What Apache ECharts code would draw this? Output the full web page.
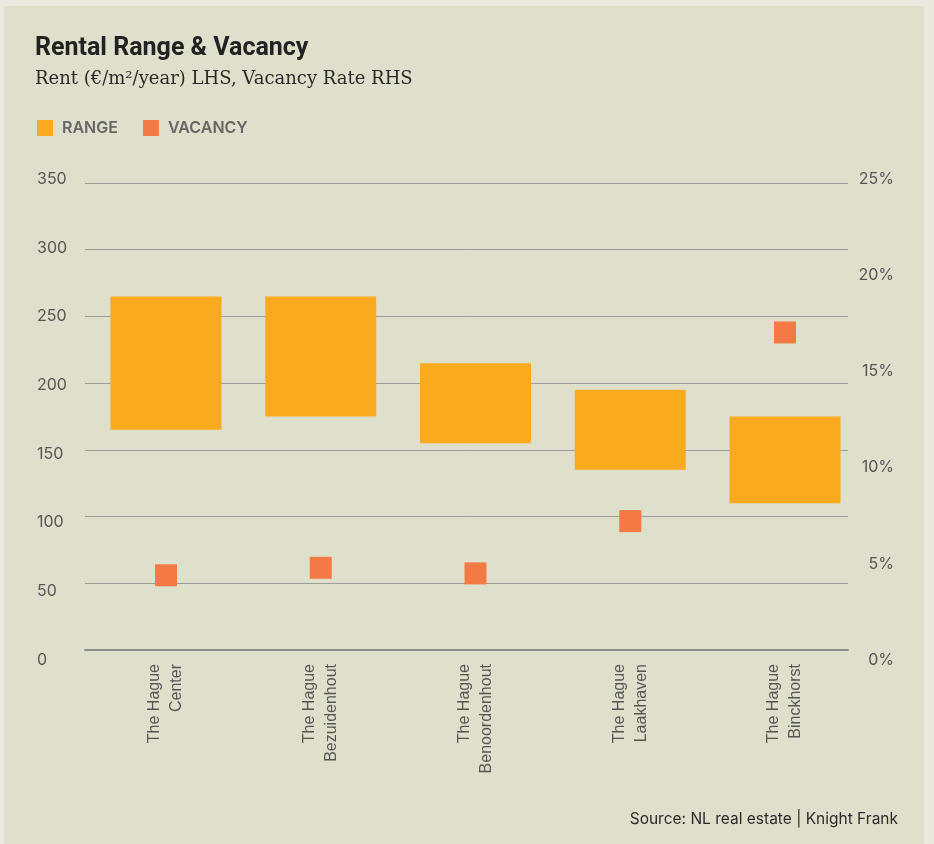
<!DOCTYPE html>
<html>
<head>
<meta charset="utf-8">
<script src="https://cdn.jsdelivr.net/npm/echarts@6/dist/echarts.min.js"></script>
<style>
  html, body { margin: 0; padding: 0; background: #e9e9de; }
  #chart { width: 934px; height: 844px; }
</style>
</head>
<body>
<div id="chart"></div>
<script>
// districts on the x axis
const districts = [
  'The Hague\nCenter',
  'The Hague\nBezuidenhout',
  'The Hague\nBenoordenhout',
  'The Hague\nLaakhaven',
  'The Hague\nBinckhorst'
]
// rent range, €/m²/year (LHS)
const rentLow = [165, 175, 155, 135, 110]
const rentHigh = [265, 265, 215, 195, 175]
// vacancy rate, % (RHS)
const vacancy = [4.0, 4.4, 4.1, 6.9, 17.0]

const rangeColor = '#f9aa1e'
const vacancyColor = '#f47a45'
const labelColor = '#555555'
const font = 'Inter, "Liberation Sans", sans-serif'

// stacked bar: transparent base + visible span
const rangeSpan = rentHigh.map((h, i) => h - rentLow[i])

const chart = echarts.init(document.getElementById('chart'))

const option = {
  backgroundColor: '#e9e9de',
  animation: false,
  graphic: [
    {
      type: 'rect',
      z: -10,
      shape: { x: 4, y: 6, width: 920, height: 840 },
      style: { fill: '#dfe0cc' }
    },
    {
      type: 'text',
      right: 36,
      top: 811,
      style: {
        text: 'Source: NL real estate | Knight Frank',
        fill: '#2a2a2a',
        font: '15.5px ' + font
      }
    }
  ],
  title: [
    {
      text: 'Rental Range & Vacancy',
      left: 35,
      top: 36,
      padding: 0,
      textStyle: { fontFamily: 'Roboto, sans-serif', fontWeight: 700, fontSize: 25, color: '#222222' }
    },
    {
      text: 'Rent (€/m²/year) LHS, Vacancy Rate RHS',
      left: 35,
      top: 70,
      padding: 0,
      textStyle: { fontFamily: '"DejaVu Serif", serif', fontWeight: 400, fontSize: 18, color: '#2a2a2a' }
    }
  ],
  legend: {
    data: ['RANGE', 'VACANCY'],
    left: 37,
    top: 120,
    padding: 0,
    icon: 'rect',
    itemWidth: 16,
    itemHeight: 16,
    itemGap: 25,
    textStyle: {
      color: '#666666',
      fontFamily: font,
      fontSize: 16,
      fontWeight: 600,
      padding: [0, 0, 0, 4]
    }
  },
  grid: [
    // gridlines
    { left: 85, width: 763, top: 183, height: 467 },
    // bars and vacancy markers
    { left: 88.6, width: 773.8, top: 183, height: 467 },
    // axis tick labels
    { left: 88.6, width: 773.8, top: 179, height: 481 }
  ],
  xAxis: [
    {
      gridIndex: 0,
      type: 'value',
      min: 0,
      max: 1,
      axisLine: { show: true, lineStyle: { color: '#8c8e8a', width: 2 } },
      axisTick: { show: false },
      axisLabel: { show: false },
      splitLine: { show: false }
    },
    {
      gridIndex: 1,
      type: 'category',
      data: districts,
      axisLine: { show: false },
      axisTick: { show: false },
      axisLabel: {
        rotate: 90,
        margin: 14,
        color: labelColor,
        fontFamily: '"Liberation Sans", Arial, sans-serif',
        fontSize: 16,
        lineHeight: 22
      }
    },
    {
      gridIndex: 2,
      type: 'category',
      data: districts,
      show: false
    }
  ],
  yAxis: [
    {
      gridIndex: 0,
      type: 'value',
      min: 0,
      max: 350,
      interval: 50,
      axisLine: { show: false },
      axisTick: { show: false },
      axisLabel: { show: false },
      splitLine: { lineStyle: { color: '#9b9d99', width: 1 } }
    },
    {
      gridIndex: 1,
      type: 'value',
      min: 0,
      max: 350,
      show: false
    },
    {
      gridIndex: 1,
      type: 'value',
      position: 'right',
      min: 0,
      max: 25,
      show: false
    },
    {
      gridIndex: 2,
      type: 'value',
      min: 0,
      max: 350,
      interval: 50,
      axisLine: { show: false },
      axisTick: { show: false },
      splitLine: { show: false },
      axisLabel: {
        align: 'left',
        margin: 51.6,
        color: labelColor,
        fontFamily: font,
        fontSize: 16
      }
    },
    {
      gridIndex: 2,
      type: 'value',
      position: 'right',
      min: 0,
      max: 25,
      interval: 5,
      axisLine: { show: false },
      axisTick: { show: false },
      splitLine: { show: false },
      axisLabel: {
        align: 'right',
        margin: 31.6,
        formatter: '{value}%',
        color: labelColor,
        fontFamily: font,
        fontSize: 16
      }
    }
  ],
  series: [
    {
      name: 'base',
      type: 'bar',
      xAxisIndex: 1,
      yAxisIndex: 1,
      stack: 'range',
      barWidth: 111,
      itemStyle: { color: 'transparent' },
      silent: true,
      data: rentLow
    },
    {
      name: 'RANGE',
      type: 'bar',
      xAxisIndex: 1,
      yAxisIndex: 1,
      stack: 'range',
      barWidth: 111,
      itemStyle: { color: rangeColor },
      data: rangeSpan
    },
    {
      name: 'VACANCY',
      type: 'scatter',
      xAxisIndex: 1,
      yAxisIndex: 2,
      symbol: 'rect',
      symbolSize: 22,
      itemStyle: { color: vacancyColor, opacity: 1 },
      z: 5,
      data: vacancy
    }
  ]
}

chart.setOption(option)
window.addEventListener('resize', () => { chart.resize() })
</script>
</body>
</html>
